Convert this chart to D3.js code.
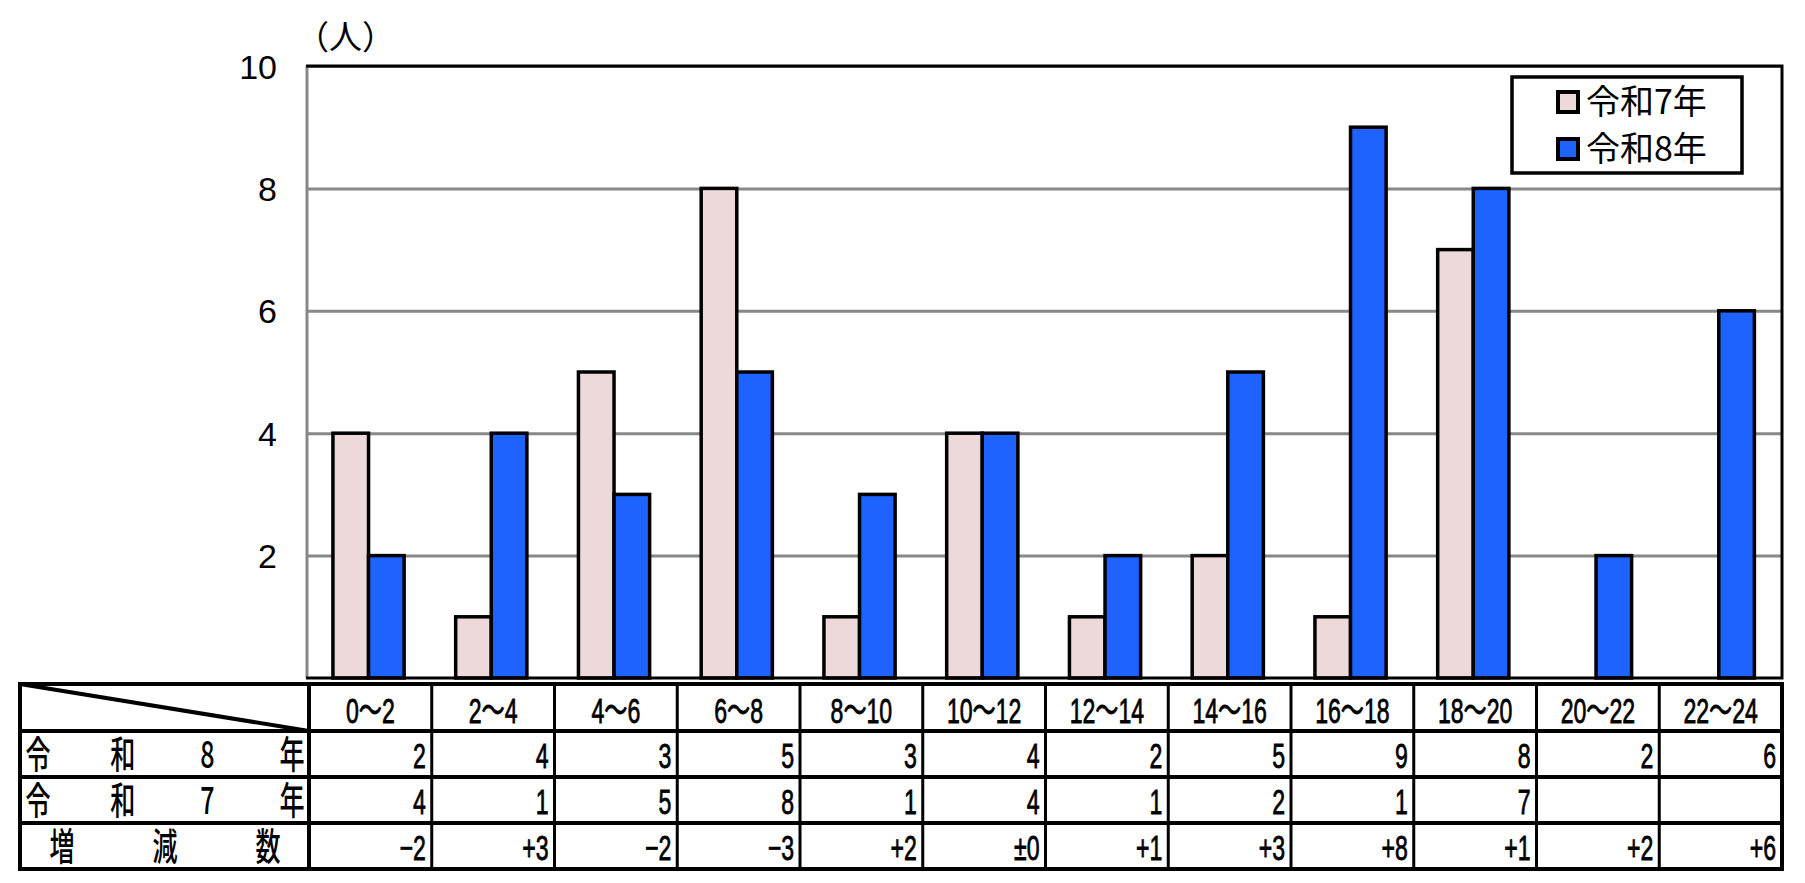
<!DOCTYPE html>
<html>
<head>
<meta charset="utf-8">
<script src="https://cdn.jsdelivr.net/npm/d3@7"></script>
<style>
  body { margin: 0; background: #fff; }
  svg { display: block; }
</style>
</head>
<body>
<svg id="chart" width="1805" height="883"></svg>
<script>
// data
const categories = ["0～2", "2～4", "4～6", "6～8", "8～10", "10～12", "12～14", "14～16", "16～18", "18～20", "20～22", "22～24"];
const seriesNames = ["令和7年", "令和8年"];
const r7 = [4, 1, 5, 8, 1, 4, 1, 2, 1, 7, null, null];
const r8 = [2, 4, 3, 5, 3, 4, 2, 5, 9, 8, 2, 6];
const diffLabels = ["−2", "+3", "−2", "−3", "+2", "±0", "+1", "+3", "+8", "+1", "+2", "+6"];
const yTicks = [2, 4, 6, 8, 10];
const rowLabels = [["令", "和", "8", "年"], ["令", "和", "7", "年"], ["増", "減", "数"]];

const COLOR = { pink: "#EDD9D9", blue: "#1F63FF", grid: "#888888" };

const svg = d3.select("#chart");

const plotLeft = 309, plotRight = 1782, plotTop = 66, plotBottom = 678;

const x = d3.scaleBand().domain(categories).range([plotLeft, plotRight]).padding(0);
const bw = x.bandwidth();
const xs = d3.scaleBand().domain([0, 1]).range([0.195 * bw, 0.775 * bw]).padding(0);
const y = d3.scaleLinear().domain([0, 10]).range([plotBottom, plotTop]);

// gridlines + y labels
const yAxis = svg.append("g")
  .attr("transform", `translate(${plotLeft - 2},0)`)
  .call(d3.axisLeft(y).tickValues(yTicks).tickSize(-(plotRight - plotLeft + 2)).tickPadding(30).tickFormat(d3.format("d")));
yAxis.select(".domain").remove();
yAxis.selectAll("line").attr("stroke", COLOR.grid).attr("stroke-width", 3);
yAxis.selectAll("text")
  .attr("font-family", "Liberation Sans, Arial, sans-serif")
  .attr("font-size", 34)
  .attr("fill", "#000")
  .attr("dy", null)
  .attr("y", 12);

// unit label
svg.append("text")
  .attr("x", 296).attr("y", 49)
  .attr("font-family", "Noto Sans CJK JP")
  .attr("font-size", 33)
  .text("（人）");

// bars
const series = [r7, r8];
const fills = [COLOR.pink, COLOR.blue];
series.forEach((vals, si) => {
  svg.append("g").selectAll("rect")
    .data(vals.map((v, i) => ({ cat: categories[i], v: v })).filter(d => d.v != null))
    .enter()
    .append("rect")
    .attr("x", d => x(d.cat) + xs(si))
    .attr("width", xs.bandwidth())
    .attr("y", d => y(d.v))
    .attr("height", d => y(0) - y(d.v))
    .attr("fill", fills[si])
    .attr("stroke", "#000")
    .attr("stroke-width", 3.5);
});

// plot frame
svg.append("line").attr("x1", plotLeft - 2).attr("x2", plotLeft - 2).attr("y1", plotTop).attr("y2", plotBottom)
  .attr("stroke", COLOR.grid).attr("stroke-width", 3);
svg.append("path")
  .attr("d", `M${plotLeft - 3},${plotTop} H${plotRight} V${plotBottom} H${plotLeft - 3}`)
  .attr("fill", "none").attr("stroke", "#000").attr("stroke-width", 3);

// legend
const lg = svg.append("g");
lg.append("rect").attr("x", 1512).attr("y", 77).attr("width", 230).attr("height", 96)
  .attr("fill", "#fff").attr("stroke", "#000").attr("stroke-width", 3.5);
seriesNames.forEach((name, i) => {
  const cy = 102 + i * 47;
  lg.append("rect").attr("x", 1558).attr("y", cy - 10).attr("width", 20).attr("height", 20)
    .attr("fill", fills[i]).attr("stroke", "#000").attr("stroke-width", 4);
  lg.append("text").attr("x", 1586).attr("y", cy + 12)
    .attr("font-family", "Noto Sans CJK JP").attr("font-size", 34)
    .text(name);
});

// table
const tLeft = 20;
const rowsY = [684, 731, 777, 823, 869];
const tbl = svg.append("g");
const tFont = "Liberation Sans, Arial, Noto Sans CJK JP, sans-serif";
const sx = 0.66;

function cellText(tx, ty, str, anchor) {
  tbl.append("text")
    .attr("transform", `translate(${tx},${ty}) scale(${sx},1)`)
    .attr("text-anchor", anchor)
    .attr("font-family", tFont)
    .attr("font-size", 35)
    .attr("stroke", "#000")
    .attr("stroke-width", 0.8)
    .text(str);
}

// header
categories.forEach(c => cellText(x(c) + bw / 2, rowsY[1] - 8, c, "middle"));
// rows
const rowValues = [r8.map(v => v == null ? "" : String(v)), r7.map(v => v == null ? "" : String(v)), diffLabels];
rowValues.forEach((vals, ri) => {
  vals.forEach((v, i) => {
    if (v !== "") cellText(x(categories[i]) + bw - 6, rowsY[ri + 2] - 9, v, "end");
  });
});
// row labels
rowLabels.forEach((chars, ri) => {
  const p = d3.scalePoint().domain(d3.range(chars.length))
    .range(chars.length === 4 ? [38, 292] : [62, 268]);
  chars.forEach((ch, i) => {
    tbl.append("text")
      .attr("transform", `translate(${p(i)},${rowsY[ri + 2] - 9}) scale(${sx},1)`)
      .attr("text-anchor", "middle")
      .attr("font-family", "Noto Sans CJK JP")
      .attr("font-weight", 500)
      .attr("font-size", 38)
      .text(ch);
  });
});

// grid lines of table
tbl.append("rect").attr("x", tLeft).attr("y", rowsY[0]).attr("width", plotRight - tLeft).attr("height", rowsY[4] - rowsY[0])
  .attr("fill", "none").attr("stroke", "#000").attr("stroke-width", 4);
rowsY.slice(1, 4).forEach(ry => {
  tbl.append("line").attr("x1", tLeft).attr("x2", plotRight).attr("y1", ry).attr("y2", ry)
    .attr("stroke", "#000").attr("stroke-width", 4);
});
tbl.append("line").attr("x1", plotLeft).attr("x2", plotLeft).attr("y1", rowsY[0]).attr("y2", rowsY[4])
  .attr("stroke", "#000").attr("stroke-width", 4);
categories.slice(1).forEach(c => {
  tbl.append("line").attr("x1", x(c)).attr("x2", x(c)).attr("y1", rowsY[0]).attr("y2", rowsY[4])
    .attr("stroke", "#000").attr("stroke-width", 3);
});
tbl.append("line").attr("x1", tLeft).attr("y1", rowsY[0]).attr("x2", plotLeft).attr("y2", rowsY[1])
  .attr("stroke", "#000").attr("stroke-width", 4);
</script>
</body>
</html>
